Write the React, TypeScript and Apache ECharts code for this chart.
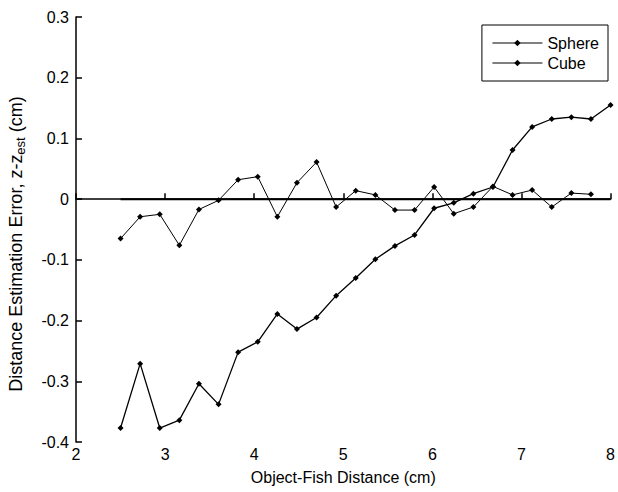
import React, { useEffect, useRef } from "react";
import * as echarts from "echarts";

const xValues = [2.5, 2.72, 2.94, 3.16, 3.38, 3.6, 3.82, 4.04, 4.26, 4.48, 4.7, 4.92, 5.14, 5.36, 5.58, 5.8, 6.02, 6.24, 6.46, 6.68, 6.9, 7.12, 7.34, 7.56, 7.78, 8.0];
const sphereValues = [-0.065, -0.029, -0.025, -0.076, -0.017, -0.002, 0.032, 0.037, -0.029, 0.027, 0.061, -0.013, 0.014, 0.007, -0.018, -0.018, 0.02, -0.024, -0.013, 0.021, 0.007, 0.015, -0.013, 0.01, 0.008];
const cubeValues = [-0.377, -0.271, -0.377, -0.364, -0.304, -0.338, -0.252, -0.235, -0.189, -0.214, -0.195, -0.159, -0.13, -0.099, -0.077, -0.059, -0.015, -0.006, 0.009, 0.02, 0.081, 0.119, 0.132, 0.135, 0.132, 0.155];
const zeroLineX = [2.5, 8];
const zeroLineY = [0, 0];
const seriesNames = ["Sphere", "Cube"];
const xTitle = "Object-Fish Distance (cm)";
const yTitleParts = ["Distance Estimation Error, z-z", "est", " (cm)"];

const FONT = "'Liberation Sans', Arial, Helvetica, sans-serif";

export default function App() {
  const ref = useRef<HTMLDivElement>(null);
  useEffect(() => {
    if (!ref.current) return;
    const chart = echarts.init(ref.current, null, { renderer: "svg" });
    const pair = (xs: number[], ys: number[]) => ys.map((y, i) => [xs[i], y]);
    chart.setOption({
      animation: false,
      backgroundColor: "#fff",
      textStyle: { fontFamily: FONT, color: "#000" },
      grid: { left: 76, right: 5, top: 17, bottom: 50, containLabel: false },
      legend: {
        data: seriesNames,
        orient: "vertical",
        right: 10,
        top: 25,
        itemWidth: 50,
        itemHeight: 8,
        itemGap: 4,
        padding: [10, 9, 10, 10],
        borderColor: "#000",
        borderWidth: 1,
        lineStyle: { width: 1 },
        textStyle: { fontFamily: FONT, fontSize: 16, color: "#000", lineHeight: 16 },
      },
      graphic: [
        {
          type: "text",
          x: 16,
          y: 244,
          rotation: Math.PI / 2,
          style: {
            text: `{a|${yTitleParts[0]}}{b|${yTitleParts[1]}}{a|${yTitleParts[2]}}`,
            align: "center",
            verticalAlign: "middle",
            fill: "#000",
            rich: {
              a: { fontFamily: FONT, fontSize: 18, fill: "#000", lineHeight: 20 },
              b: { fontFamily: FONT, fontSize: 13, fill: "#000", lineHeight: 20, padding: [9, 0, 0, 0] },
            },
          },
        },
      ],
      xAxis: {
        type: "value",
        min: 2,
        max: 8,
        interval: 1,
        name: xTitle,
        nameLocation: "middle",
        nameGap: 27,
        nameTextStyle: { fontFamily: FONT, fontSize: 16, color: "#000", verticalAlign: "top" },
        axisLine: { show: true, lineStyle: { color: "#000", width: 1.5 } },
        axisTick: { show: true, inside: true, length: 6, lineStyle: { color: "#000", width: 1.5 } },
        axisLabel: { fontFamily: FONT, fontSize: 16, color: "#000", margin: 4 },
        splitLine: { show: false },
      },
      yAxis: {
        type: "value",
        min: -0.4,
        max: 0.3,
        interval: 0.1,
        axisLine: { show: true, lineStyle: { color: "#000", width: 1.5 } },
        axisTick: { show: true, inside: true, length: 6, lineStyle: { color: "#000", width: 1.5 } },
        axisLabel: { fontFamily: FONT, fontSize: 16, color: "#000", margin: 7 },
        splitLine: { show: false },
      },
      series: [
        {
          name: seriesNames[0],
          type: "line",
          data: pair(xValues, sphereValues),
          symbol: "diamond",
          symbolSize: 6,
          lineStyle: { color: "#000", width: 1 },
          itemStyle: { color: "#000" },
          z: 3,
        },
        {
          name: seriesNames[1],
          type: "line",
          data: pair(xValues, cubeValues),
          symbol: "diamond",
          symbolSize: 6,
          lineStyle: { color: "#000", width: 1.3 },
          itemStyle: { color: "#000" },
          z: 3,
        },
        {
          name: "zero",
          type: "line",
          data: pair(zeroLineX, zeroLineY),
          symbol: "none",
          lineStyle: { color: "#000", width: 2 },
          z: 2,
          silent: true,
        },
      ],
    });
    return () => chart.dispose();
  }, []);
  return (
    <div
      ref={ref}
      style={{ position: "absolute", left: 0, top: 0, width: 618, height: 492 }}
    />
  );
}
